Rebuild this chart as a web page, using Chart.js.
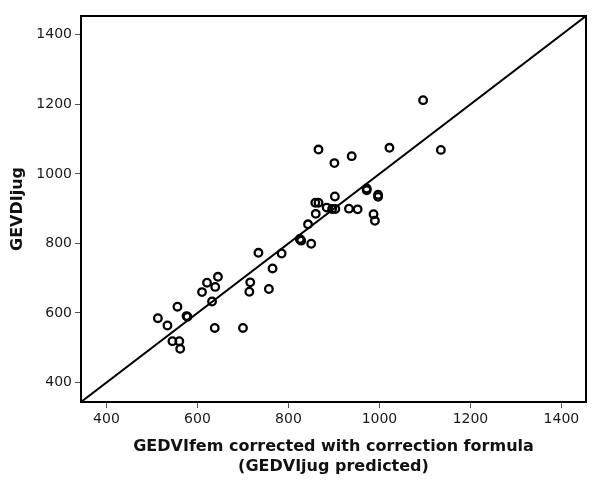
<!DOCTYPE html>
<html><head><meta charset="utf-8">
<script src="https://cdn.jsdelivr.net/npm/chart.js@4"></script>
<style>html,body{margin:0;padding:0;background:#fff}</style>
</head><body>
<canvas id="c" width="600" height="484"></canvas>
<script>
// GEDVIfem corrected (GEDVIjug predicted) – x values
const predicted = [1096,1135,1022,866,939,901,972,972,997,997,
                   902,859,866,884,896,903,933,952,860,987,
                   990,843,825,828,826,850,785,734,765,716,
                   714,757,645,621,639,610,632,556,576,578,
                   513,534,638,700,545,560,562];
// GEVDIjug measured – y values
const measured  = [1212,1069,1075,1070,1051,1031,958,953,940,934,
                   935,917,917,903,899,899,900,898,885,884,
                   865,855,813,808,811,799,771,773,728,688,
                   661,669,704,687,675,660,633,618,591,589,
                   585,564,557,557,519,519,497];
const axisMin = 344, axisMax = 1454;
const tickValues = [400, 600, 800, 1000, 1200, 1400];
const identityLine = [344, 1454];
const xTitle = ['GEDVIfem corrected with correction formula', '(GEDVIjug predicted)'];
const yTitle = 'GEVDIjug';

const FONT = '"DejaVu Sans", sans-serif';

const framePlugin = {
  id: 'frame',
  afterDatasetsDraw(chart) {
    const {ctx, chartArea: a} = chart;
    ctx.save();
    ctx.strokeStyle = '#000';
    ctx.lineWidth = 2;
    ctx.strokeRect(a.left, a.top, a.right - a.left, a.bottom - a.top);
    ctx.restore();
  }
};

function axis(pos, title, fit) {
  return {
    type: 'linear', position: pos, min: axisMin, max: axisMax,
    afterBuildTicks: s => { s.ticks = tickValues.map(v => ({value: v})); },
    afterFit: fit,
    ticks: { font: {family: FONT, size: 14}, color: '#1a1a1a', padding: 3,
             maxRotation: 0, autoSkip: false, callback: v => String(v) },
    grid: { drawOnChartArea: false, drawTicks: true, tickLength: 6,
            color: '#555', lineWidth: 1 },
    border: { display: false },
    title: { display: true, text: title, color: '#111',
             font: {family: FONT, size: 16, weight: 'bold', lineHeight: 1.2},
             padding: pos === 'bottom' ? {top: 0, bottom: 8} : {top: 8, bottom: 0} }
  };
}

new Chart(document.getElementById('c'), {
  type: 'scatter',
  data: {
    datasets: [
      {
        type: 'line',
        data: identityLine.map(v => ({x: v, y: v})),
        borderColor: '#000', borderWidth: 2, pointRadius: 0, fill: false
      },
      {
        data: predicted.map((x, i) => ({x: x, y: measured[i]})),
        pointStyle: 'circle', pointRadius: 3.8, borderWidth: 2.3,
        borderColor: '#000', backgroundColor: 'rgba(0,0,0,0)'
      }
    ]
  },
  options: {
    responsive: false, animation: false, devicePixelRatio: 1,
    layout: { padding: {top: 16, right: 14, left: 0, bottom: 0} },
    plugins: { legend: {display: false}, tooltip: {enabled: false} },
    scales: {
      x: axis('bottom', xTitle, s => { s.height = 82; }),
      y: axis('left', yTitle, s => { s.width = 81; })
    }
  },
  plugins: [framePlugin]
});
</script>
</body></html>
